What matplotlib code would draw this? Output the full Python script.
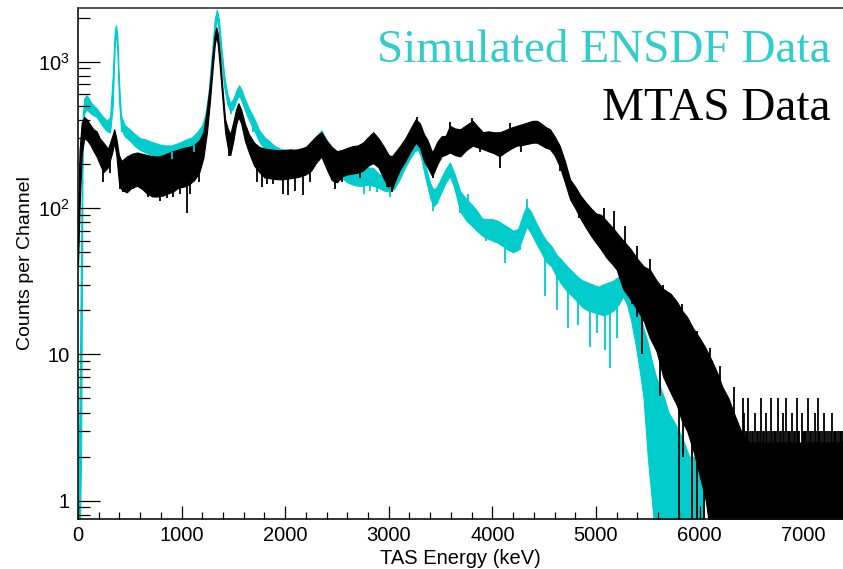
import numpy as np
import matplotlib
matplotlib.use("Agg")
import matplotlib.pyplot as plt
from matplotlib.ticker import MultipleLocator, LogLocator, NullFormatter

plt.rcParams["font.family"] = ["Liberation Sans", "DejaVu Sans"]
plt.rcParams["mathtext.fontset"] = "custom"
plt.rcParams["mathtext.rm"] = "Liberation Sans"
plt.rcParams["mathtext.default"] = "regular"

CYAN = "#00CCCC"
BLACK = "#000000"

# ---- Simulated ENSDF spectrum: energy (keV), lower / upper edge of the channel scatter
sim_energy = [0, 15, 30, 45, 60, 80, 100, 130, 180, 230, 280, 310, 335, 355, 367, 380, 395,
              415, 450, 500, 550, 600, 650, 700, 750, 800, 850, 900, 950, 1000, 1050, 1100,
              1150, 1200, 1230, 1260, 1290, 1320, 1340, 1360, 1385, 1410, 1440, 1470, 1500,
              1530, 1555, 1580, 1610, 1650, 1700, 1750, 1800, 1850, 1900, 1950, 2000, 2050,
              2100, 2150, 2200, 2250, 2300, 2350, 2400, 2450, 2500, 2550, 2600, 2650, 2700,
              2750, 2800, 2850, 2900, 2950, 3000, 3050, 3100, 3150, 3200, 3250, 3280, 3310,
              3350, 3400, 3430, 3460, 3500, 3550, 3590, 3630, 3690, 3750, 3800, 3850, 3900,
              3950, 4000, 4050, 4100, 4150, 4200, 4250, 4300, 4330, 4370, 4420, 4470, 4520,
              4570, 4620, 4670, 4720, 4770, 4820, 4870, 4920, 4970, 5020, 5070, 5120, 5170,
              5220, 5260, 5300, 5340, 5380, 5420, 5460, 5500, 5540, 5580, 5620, 5660, 5700,
              5750, 5800, 5850, 5900, 5950, 6000, 6040]
sim_low = [0.5, 0.5, 2, 300, 440, 470, 460, 440, 420, 370, 335, 330, 500, 1300, 1600, 1200, 550,
           350, 310, 290, 265, 250, 240, 232, 228, 222, 220, 222, 222, 225, 235, 245,
           260, 300, 360, 520, 900, 1600, 2000, 1600, 1000, 680, 520, 455, 480,
           550, 590, 540, 470, 400, 340, 285, 255, 238, 225, 215, 210, 205,
           208, 212, 215, 225, 250, 280, 235, 200, 175, 160, 150, 145, 142,
           142, 145, 142, 138, 132, 130, 135, 155, 185, 215, 245, 250, 225,
           165, 118, 103, 108, 125, 150, 165, 140, 95, 82, 76, 70, 65,
           62, 60, 58, 55, 52, 50, 52, 65, 75, 68, 58, 50, 43,
           40, 34, 30, 27, 25, 23, 21, 20, 19.5, 19, 18.5, 19, 20,
           22, 25, 22, 17, 12, 8, 5, 2, 1, 0.5, 0.5, 0.5, 0.5,
           0.5, 0.5, 0.5, 0.5, 0.5, 0.5, 0.5]
sim_high = [1, 4.7, 60, 420, 560, 590, 570, 520, 480, 430, 395, 420, 800, 1650, 1780, 1500, 750,
            430, 370, 345, 320, 300, 295, 285, 278, 270, 268, 268, 275, 285, 295, 305,
            330, 370, 440, 620, 1100, 1950, 2270, 1950, 1250, 820, 610, 520, 560,
            640, 690, 640, 560, 480, 410, 340, 305, 285, 265, 255, 250, 248,
            252, 255, 262, 280, 310, 340, 290, 245, 220, 200, 192, 186, 184,
            186, 190, 188, 172, 165, 160, 165, 200, 230, 265, 290, 296, 270,
            200, 148, 134, 138, 157, 185, 205, 175, 130, 115, 106, 96, 85,
            84, 84, 82, 78, 74, 70, 72, 92, 103, 95, 80, 68, 60,
            55, 48, 44, 40, 37, 34, 32, 31, 30, 29, 30, 31, 32,
            34, 35, 30, 25, 22, 19, 15, 12, 9, 7, 6, 5, 4,
            3.5, 3, 2.5, 2, 2, 1.5, 1]

# single-channel excursions of the simulated spectrum: energy, band value, tip value
sim_spike_energy = [420, 560, 700, 905, 1120, 1480, 1690, 2760, 2820, 2885, 3010, 3427, 3687,
                    3765, 3780, 3940, 4120, 4265, 4330, 4508, 4620, 4733, 4830, 4945, 5008,
                    5090, 5135, 5200]
sim_spike_base = [380, 300, 250, 240, 270, 480, 380, 160, 160, 160, 140, 115, 110,
                  95, 90, 75, 65, 60, 85, 50, 40, 33, 28, 24, 24,
                  24, 24, 26]
sim_spike_tip = [330, 262, 226, 215, 240, 440, 330, 125, 130, 128, 120, 95, 92,
                 125, 80, 60, 42, 52, 115, 25, 20, 15.2, 16, 11.3, 14,
                 10.7, 8.1, 13]

# ---- MTAS measured spectrum
mtas_energy = [0, 15, 35, 60, 90, 120, 150, 180, 210, 245, 290, 330, 350, 370, 395, 420, 470,
               520, 570, 620, 670, 720, 770, 820, 870, 920, 970, 1020, 1070, 1120, 1170, 1210,
               1245, 1275, 1300, 1320, 1335, 1350, 1370, 1390, 1420, 1445, 1470, 1500, 1525,
               1548, 1575, 1610, 1650, 1700, 1750, 1800, 1850, 1900, 1950, 2000, 2050, 2100,
               2150, 2200, 2250, 2300, 2350, 2400, 2450, 2500, 2550, 2600, 2650, 2700, 2750,
               2800, 2850, 2900, 2950, 3000, 3030, 3070, 3110, 3160, 3210, 3260, 3300, 3340,
               3370, 3420, 3470, 3510, 3550, 3590, 3640, 3690, 3750, 3810, 3860, 3910, 3960,
               4010, 4070, 4120, 4180, 4235, 4290, 4340, 4390, 4430, 4470, 4510, 4556, 4600,
               4650, 4700, 4750, 4800, 4850, 4900, 4950, 5000, 5050, 5100, 5150, 5200, 5263,
               5330, 5400, 5460, 5520, 5585, 5650, 5720, 5780, 5830, 5880, 5940, 6000, 6060,
               6120, 6170, 6220, 6280, 6330, 6400, 6480, 6600, 6800, 7000, 7200, 7400]
mtas_low = [40, 100, 230, 300, 290, 270, 245, 225, 200, 176, 190, 240, 280, 230, 150, 134, 128,
            138, 142, 135, 125, 120, 120, 122, 126, 130, 138, 140, 145, 155, 175, 220,
            330, 550, 900, 1300, 1500, 1300, 900, 600, 330, 260, 230, 290, 370,
            420, 380, 290, 240, 195, 176, 162, 160, 158, 157, 158, 160, 162,
            165, 170, 180, 205, 225, 185, 155, 150, 165, 170, 172, 175, 180,
            195, 203, 190, 160, 138, 134, 160, 184, 210, 245, 280, 260, 210,
            193, 165, 200, 226, 232, 240, 230, 226, 250, 267, 260, 253, 245,
            238, 226, 240, 255, 267, 270, 275, 280, 280, 270, 260, 253, 230,
            193, 150, 115, 100, 85, 74, 65, 58, 52, 46, 42, 38, 28,
            24, 20, 17, 13, 10.5, 7, 5.5, 4.5, 3.5, 3, 2.2, 1.5, 1,
            0.5, 0.5, 0.5, 0.5, 0.5, 0.5, 0.5, 0.5, 0.5, 0.5, 0.5, 0.5]
mtas_high = [90, 250, 380, 420, 400, 370, 345, 335, 300, 280, 255, 310, 346, 300, 230, 210, 225,
             235, 240, 235, 230, 227, 225, 230, 238, 245, 252, 258, 262, 270, 290, 330,
             480, 720, 1150, 1550, 1720, 1550, 1100, 720, 405, 350, 320, 390, 470,
             522, 470, 380, 320, 280, 262, 255, 252, 250, 248, 250, 252, 250,
             255, 262, 285, 310, 330, 290, 262, 245, 250, 258, 265, 268, 280,
             305, 330, 300, 265, 230, 226, 245, 267, 300, 350, 405, 380, 320,
             296, 240, 285, 310, 312, 365, 350, 346, 370, 395, 360, 330, 335,
             330, 330, 340, 355, 365, 375, 385, 395, 395, 380, 360, 346, 310,
             267, 210, 157, 140, 122, 110, 100, 92, 90, 82, 75, 68, 60,
             53, 45, 40, 38, 32, 28, 26, 23, 20, 18, 15, 13, 11,
             9, 7.5, 6, 5, 4, 3, 2.5, 2.5, 2.5, 2.5, 2.5, 2.5]

# single-channel excursions of the measured spectrum: energy, band value, tip value
mtas_spike_energy = [245, 310, 405, 437, 533, 580, 677, 790, 855, 920, 985, 1050, 1085, 1170,
                     1460, 1725, 1775, 1820, 1885, 1980, 2030, 2095, 2175, 2240, 2480, 2545,
                     2720, 2980, 3030, 3430, 3880, 4073, 4280, 4650, 4717, 4840, 4945, 5070,
                     5170, 5265, 5345, 5395, 5440, 5618, 5800, 5845, 5925, 5975, 6040,
                     3270, 3591, 3800, 4170, 5075, 5170, 5280, 5393, 5520, 5650, 5830,
                     5975, 6100, 6200, 6330, 6420]
mtas_spike_base = [200, 220, 180, 170, 180, 185, 170, 170, 175, 180, 190, 190, 200, 220,
                   270, 210, 200, 200, 200, 200, 200, 200, 205, 215, 200, 200,
                   220, 190, 180, 200, 290, 280, 320, 230, 170, 100, 85, 70,
                   55, 45, 35, 30, 28, 18, 10, 8, 6, 5, 4,
                   350, 300, 330, 300, 80, 70, 55, 40, 30, 20, 15,
                   10, 7, 5, 3.5, 2.5]
mtas_spike_tip = [150, 175, 134, 128, 135, 140, 120, 112, 118, 120, 125, 92, 125, 150,
                  227, 150, 140, 145, 145, 125, 123, 130, 123, 150, 134, 150,
                  160, 140, 128, 160, 240, 189, 240, 180, 140, 85, 70, 50,
                  42, 35, 22, 18, 10, 5.2, 0.5, 2, 0.5, 0.5, 0.5,
                  420, 390, 410, 380, 100, 96, 75, 55, 45, 30, 22,
                  14.5, 11, 8.3, 6, 5]

# sparse high channels in the measured tail
tail_energy = [6430, 6445, 6460, 6470, 6490, 6505, 6515, 6535, 6550, 6560, 6580, 6595, 6610,
               6625, 6640, 6650, 6670, 6690, 6700, 6715, 6730, 6740, 6760, 6775, 6785, 6805,
               6820, 6830, 6850, 6865, 6875, 6895, 6910, 6920, 6940, 6950, 6960, 6985, 6995,
               7005, 7020, 7030, 7050, 7065, 7075, 7095, 7110, 7120, 7140, 7155, 7165, 7185,
               7200, 7210, 7230, 7250, 7265, 7275, 7295, 7310, 7320, 7340, 7355, 7365, 7380]
tail_counts = [4, 3, 3, 5, 3, 3, 3, 4, 3, 3, 3, 5, 3,
               3, 4, 3, 3, 5, 3, 3, 3, 3, 5, 3, 3, 4,
               3, 5, 3, 3, 3, 4, 3, 3, 5, 3, 3, 4, 3,
               3, 3, 3, 5, 3, 3, 3, 4, 3, 5, 3, 3, 3,
               4, 3, 3, 3, 3, 4, 3, 3, 3, 3, 3, 3, 3]

x_major = [0, 1000, 2000, 3000, 4000, 5000, 6000, 7000]
x_labels = ["0", "1000", "2000", "3000", "4000", "5000", "6000", "7000"]
y_major = [1, 10, 100, 1000]
y_labels = ["1", "10", "$10^{2}$", "$10^{3}$"]

fig = plt.figure(figsize=(8.43, 5.69), dpi=100)
W, H = 843.0, 569.0
ax = fig.add_axes([78 / W, 1 - 519.3 / H, 1 - 78 / W, (519.3 - 7.5) / H])

ax.fill_between(sim_energy, sim_low, sim_high, color=CYAN, linewidth=0.8, edgecolor=CYAN)
ax.vlines(sim_spike_energy, sim_spike_base, sim_spike_tip, color=CYAN, linewidth=1.3)

ax.fill_between(mtas_energy, mtas_low, mtas_high, color=BLACK, linewidth=0.8, edgecolor=BLACK)
ax.vlines(mtas_spike_energy, mtas_spike_base, mtas_spike_tip, color=BLACK, linewidth=1.3)
ax.vlines(tail_energy, 2, tail_counts, color=BLACK, linewidth=1.3)

ax.set_yscale("log")
ax.set_xlim(0, 7385)
ax.set_ylim(0.746, 2350)

ax.set_xticks(x_major)
ax.set_xticklabels(x_labels)
ax.xaxis.set_minor_locator(MultipleLocator(200))
ax.set_yticks(y_major)
ax.set_yticklabels(y_labels)
ax.yaxis.set_minor_locator(LogLocator(base=10, subs=np.arange(2, 10)))
ax.yaxis.set_minor_formatter(NullFormatter())

ax.tick_params(axis="x", which="major", direction="in", length=9.6, width=0.9,
               labelsize=14.5, pad=5)
ax.tick_params(axis="x", which="minor", direction="in", length=4.8, width=0.9)
ax.tick_params(axis="y", which="major", direction="in", length=15.6, width=0.9,
               labelsize=14.5, pad=6)
ax.tick_params(axis="y", which="minor", direction="in", length=8.4, width=0.9)
ax.tick_params(top=False, right=False, which="both")

for side in ("left", "bottom"):
    ax.spines[side].set_linewidth(1.2)
    ax.spines[side].set_color("#111111")
ax.spines["top"].set_linewidth(1.3)
ax.spines["top"].set_color("#444444")
ax.spines["right"].set_visible(False)

ax.set_xlabel("TAS Energy (keV)", fontsize=14.5, labelpad=3)
ax.set_ylabel("Counts per Channel", fontsize=14, labelpad=3)

fig.text(831 / W, 1 - 61.5 / H, "Simulated ENSDF Data", ha="right", va="baseline",
         fontsize=34, family="Liberation Serif", color="#33CCCC")
fig.text(831 / W, 1 - 120.5 / H, "MTAS Data", ha="right", va="baseline",
         fontsize=34, family="Liberation Serif", color=BLACK)

fig.savefig("out.png", dpi=100)
